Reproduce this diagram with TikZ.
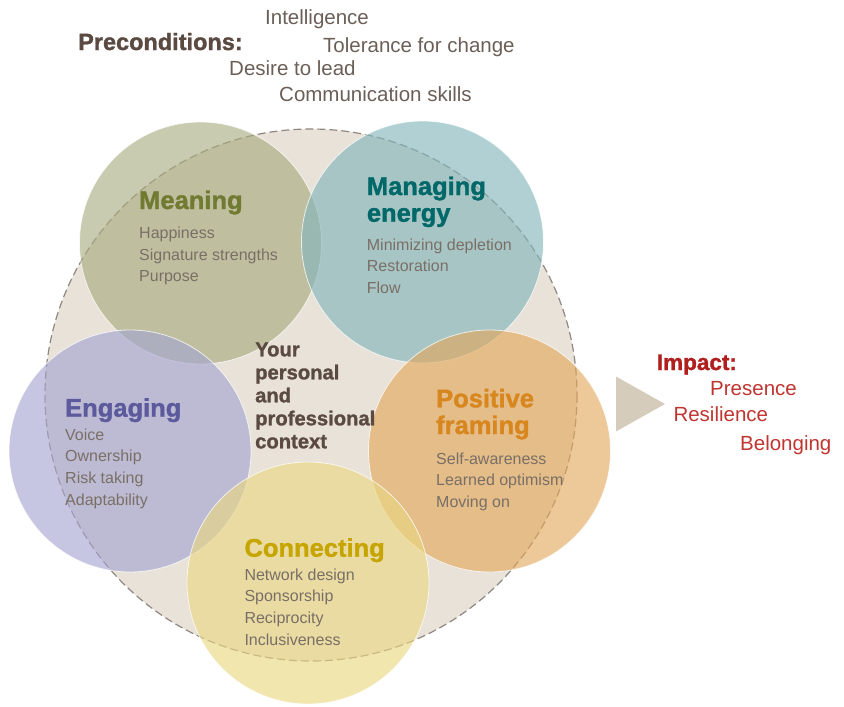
\documentclass[tikz,border=0pt]{standalone}
\usepackage{fontspec}
\setmainfont{Liberation Sans}
\newfontfamily\heavyfont{Liberation Sans Bold}[FakeBold=1.3]
\definecolor{beige}{RGB}{232,226,216}
\definecolor{dashc}{RGB}{145,135,130}
\definecolor{cMean}{RGB}{168,172,128}
\definecolor{cMan}{RGB}{130,181,187}
\definecolor{cEng}{RGB}{164,165,209}
\definecolor{cPos}{RGB}{226,168,92}
\definecolor{cCon}{RGB}{234,215,129}
\definecolor{tMean}{RGB}{112,122,48}
\definecolor{tMan}{RGB}{0,104,104}
\definecolor{tEng}{RGB}{92,90,156}
\definecolor{tPos}{RGB}{216,134,30}
\definecolor{tCon}{RGB}{198,165,0}
\definecolor{tBody}{RGB}{122,111,102}
\definecolor{tTop}{RGB}{107,95,87}
\definecolor{tDark}{RGB}{90,74,66}
\definecolor{tImp}{RGB}{176,30,30}
\definecolor{tImpItem}{RGB}{192,53,48}
\definecolor{triC}{RGB}{214,204,188}
\tikzset{
  circ/.style={circle, minimum size=242pt, inner sep=0pt, fill opacity=0.63, draw=white, draw opacity=0.75, line width=0.8pt},
  txt/.style={anchor=base west, inner sep=0pt, align=left},
  ttl/.style={txt, font=\fontsize{25.5}{26.7}\selectfont\heavyfont},
  body/.style={txt, text=tBody, font=\fontsize{16}{21.7}\selectfont},
  toptxt/.style={txt, text=tTop, font=\fontsize{20.5}{24}\selectfont},
  imptxt/.style={txt, text=tImpItem, font=\fontsize{20.5}{24}\selectfont},
}
\begin{document}
\begin{tikzpicture}[x=1pt,y=-1pt]
\useasboundingbox (0,0) rectangle (844,707);
% big context circle
\node[circle, minimum size=532pt, inner sep=0pt, fill=beige] (ctx) at (311,395) {};
\draw[dashc, line width=1.2pt, dash pattern=on 8pt off 4pt] (ctx.center) circle (266);
% five circles
\node[circ, fill=cMean] (mean) at (200.5,243) {};
\node[circ, fill=cMan] (man) at (422.5,242) {};
\node[circ, fill=cEng] (eng) at (130,451) {};
\node[circ, fill=cPos] (pos) at (489.5,451) {};
\node[circ, fill=cCon] (con) at (308,583) {};
% triangle
\fill[triC] (616,376.5) -- (665,404) -- (616,431.5) -- cycle;
% preconditions (single lines: y is the baseline)
\node[txt, text=tDark, font=\fontsize{23.5}{24}\selectfont\heavyfont] (pre) at (78,50) {Preconditions:};
\node[toptxt] (p1) at (265,24) {Intelligence};
\node[toptxt] (p2) at (323,52) {Tolerance for change};
\node[toptxt] (p3) at (229,75) {Desire to lead};
\node[toptxt] (p4) at (279,101) {Communication skills};
% multi-line nodes: y is the baseline of the last line
% meaning
\node[ttl, text=tMean] (meanT) at (139,209) {Meaning};
\node[body] (meanB) at (139,281.7) {Happiness\\Signature strengths\\Purpose};
% managing energy
\node[ttl, text=tMan] (manT) at (366.7,221.7) {Managing\\energy};
\node[body] (manB) at (366.7,293.4) {Minimizing depletion\\Restoration\\Flow};
% engaging
\node[ttl, text=tEng] (engT) at (65,416.7) {Engaging};
\node[body] (engB) at (65,505.1) {Voice\\Ownership\\Risk taking\\Adaptability};
% positive framing
\node[ttl, text=tPos] (posT) at (436,434) {Positive\\framing};
\node[body] (posB) at (436,507.4) {Self-awareness\\Learned optimism\\Moving on};
% connecting
\node[ttl, text=tCon] (conT) at (244.3,556.7) {Connecting};
\node[body] (conB) at (244.3,645.1) {Network design\\Sponsorship\\Reciprocity\\Inclusiveness};
% context
\node[txt, text=tDark, font=\fontsize{20.2}{23}\selectfont\heavyfont] (ctxT) at (255,448.3) {Your\\personal\\and\\professional\\context};
% impact
\node[txt, text=tImp, font=\fontsize{22.5}{24}\selectfont\heavyfont] (imp) at (656.7,370) {Impact:};
\node[imptxt] (i1) at (710,395) {Presence};
\node[imptxt] (i2) at (673.3,421.7) {Resilience};
\node[imptxt] (i3) at (740,450) {Belonging};
\end{tikzpicture}
\end{document}
